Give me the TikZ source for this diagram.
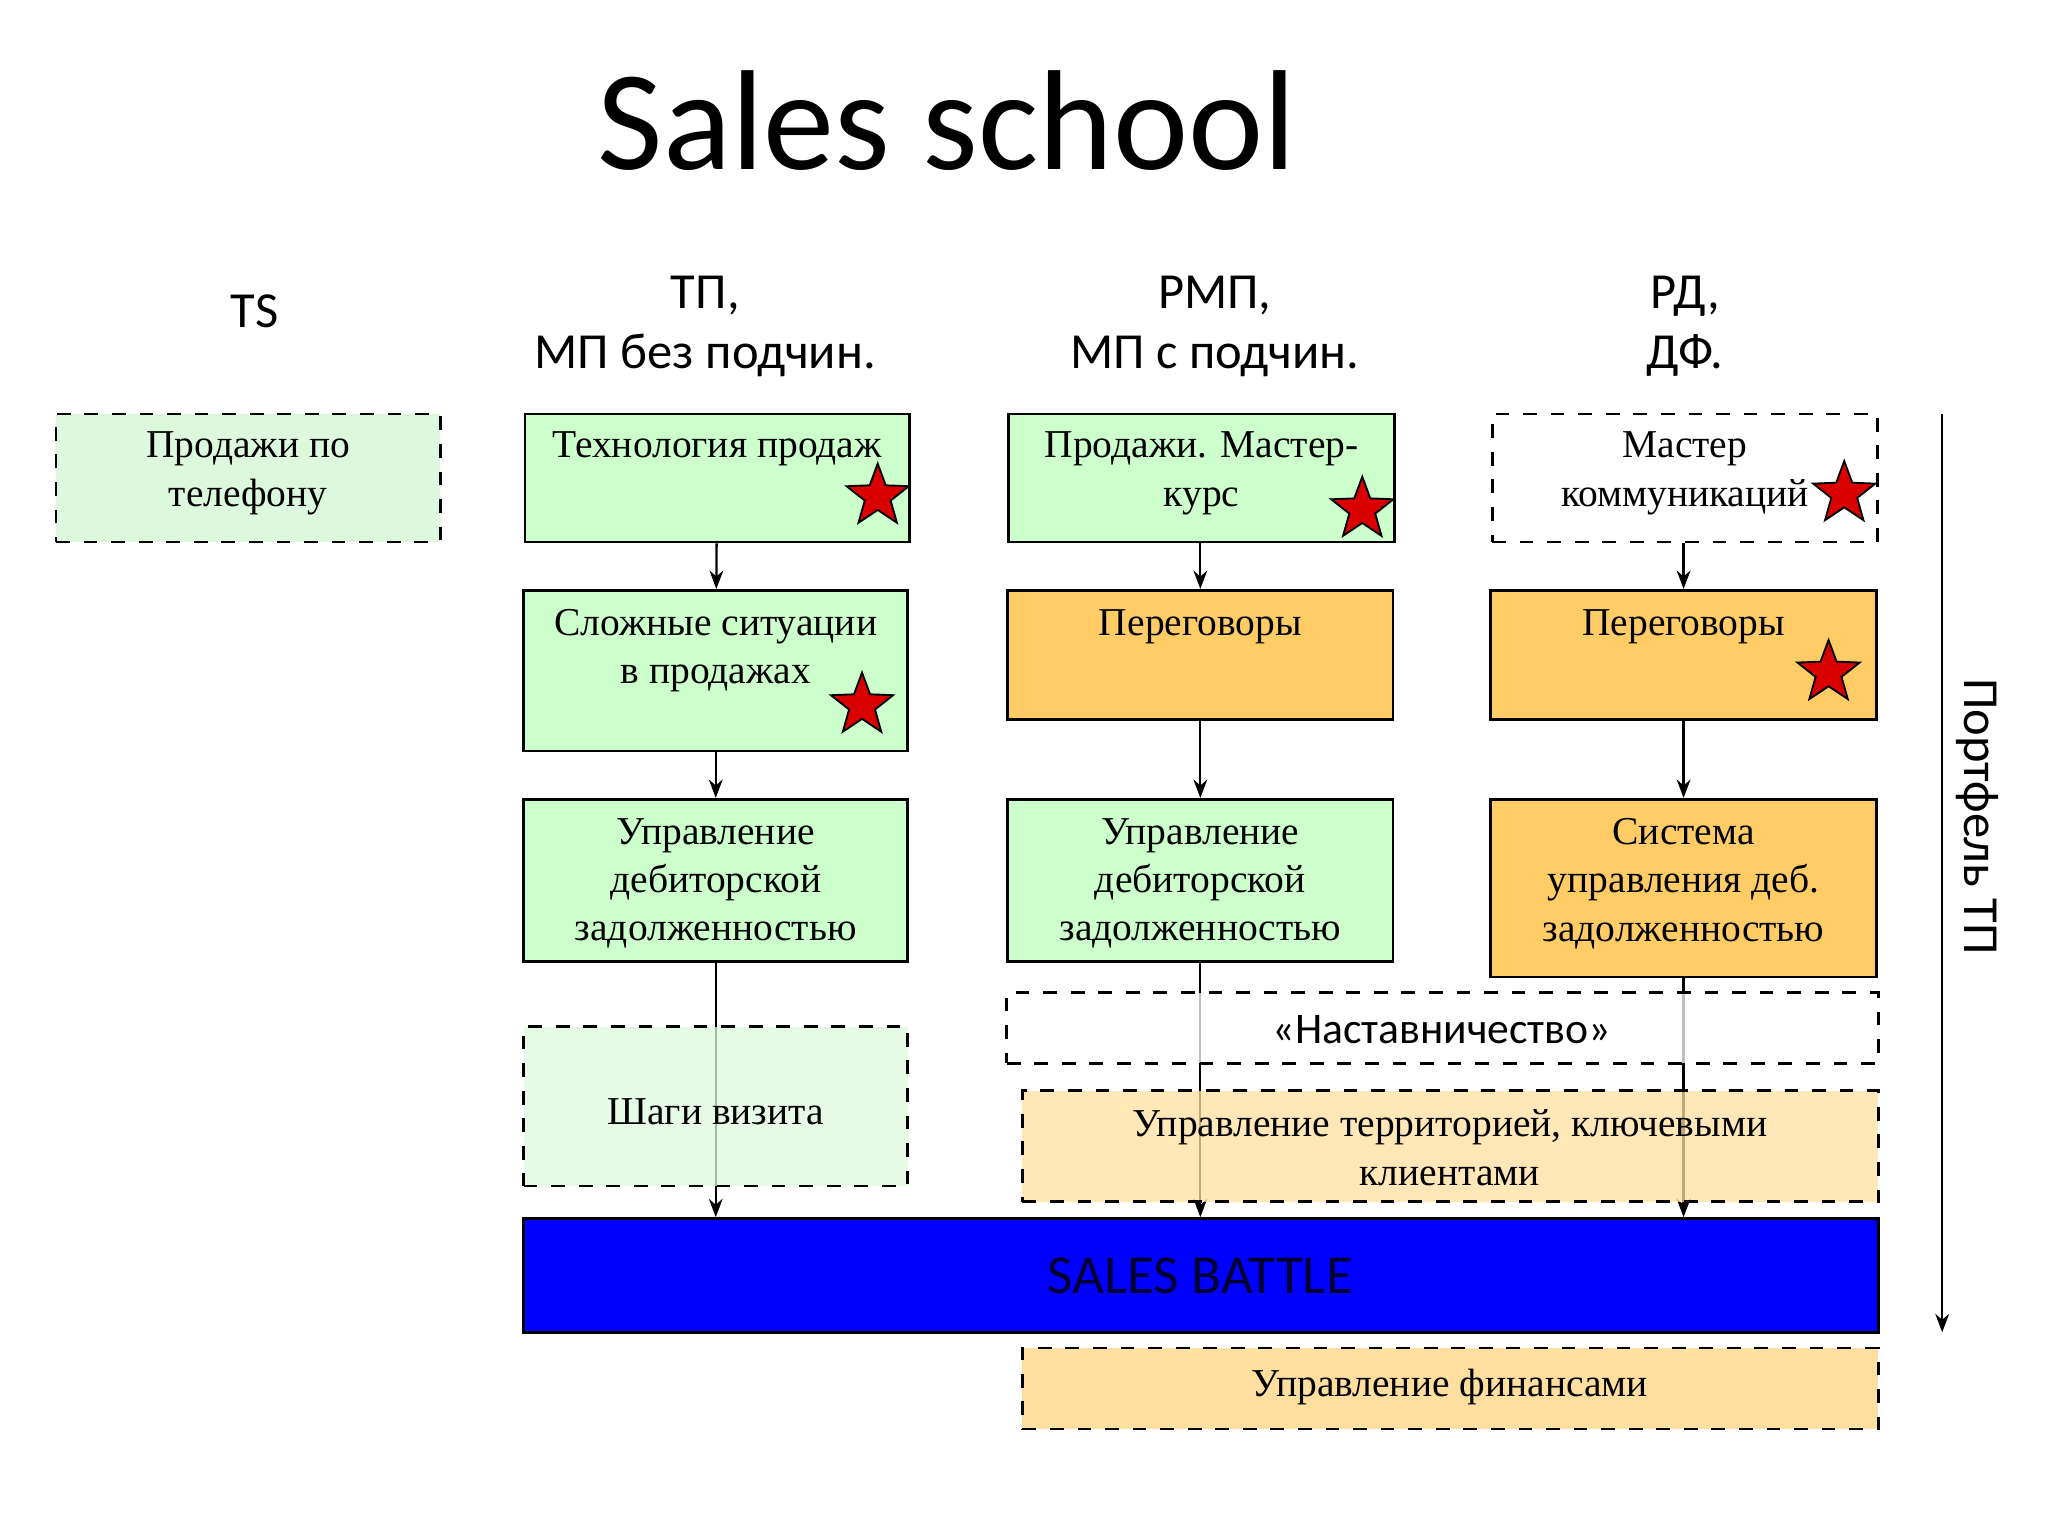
\documentclass[tikz,border=0pt]{standalone}
\usepackage{fontspec}
\setmainfont{Liberation Serif}
\newfontfamily\calfont{Carlito}
\usetikzlibrary{shapes.geometric,arrows.meta}
\definecolor{lg}{HTML}{CCFFCC}
\definecolor{llg}{HTML}{DDF9DD}
\definecolor{og}{HTML}{FFCC66}
\definecolor{lo}{HTML}{FFDF9F}
\begin{document}
\begin{tikzpicture}[x=0.01cm,y=-0.01cm,
 box/.style={draw,line width=0.6pt,inner sep=0pt},
 dbox/.style={box,dashed},
 txt/.style={font=\fontsize{8.6}{10.5}\selectfont,align=center,anchor=north,inner sep=0pt},
 hd/.style={font=\calfont\fontsize{11}{13}\selectfont,align=center},
 st/.style={star,star points=5,star point ratio=2.4,draw,fill=red!85!black,minimum size=0.5cm,inner sep=0pt},
 arr/.style={-{Stealth[length=4pt,width=3pt]},line width=0.5pt}]
\useasboundingbox (0,0) rectangle (1568,1176);
\node[font=\calfont\fontsize{31}{35}\selectfont] (title) at (725,92) {Sales school};
\node[hd] (h0) at (195,238) {TS};
\node[hd] (h1) at (540,250) {ТП,\\МП без подчин.};
\node[hd] (h2) at (930,250) {РМП,\\МП с подчин.};
\node[hd] (h3) at (1290,250) {РД,\\ДФ.};
% boxes
\node[dbox,fill=llg,minimum width=2.94cm,minimum height=0.98cm] (p1) at (190,366) {};
\node[txt] (tphone) at (190,330) {Продажи по\\телефону};
\node[box,fill=lg,minimum width=2.94cm,minimum height=0.98cm] (a1) at (549,366) {};
\node[txt] at (549,330) {Технология продаж};
\node[box,fill=lg,minimum width=2.94cm,minimum height=1.23cm] (a2) at (548,513.5) {};
\node[txt] at (548,466) {Сложные ситуации\\в продажах};
\node[box,fill=lg,minimum width=2.94cm,minimum height=1.24cm] (a3) at (548,674) {};
\node[txt] at (548,626) {Управление\\дебиторской\\задолженностью};
\node[box,fill=lg,minimum width=2.95cm,minimum height=0.98cm] (b1) at (920,366) {};
\node[txt] at (920,330) {Продажи. Мастер-\\курс};
\node[box,fill=og,minimum width=2.95cm,minimum height=0.99cm] (b2) at (919,501.5) {};
\node[txt] at (919,466) {Переговоры};
\node[box,fill=lg,minimum width=2.95cm,minimum height=1.24cm] (b3) at (919,674) {};
\node[txt] at (919,626) {Управление\\дебиторской\\задолженностью};
\node[dbox,fill=white,minimum width=2.95cm,minimum height=0.98cm] (c1) at (1290,366) {};
\node[txt] at (1290,330) {Мастер\\коммуникаций};
\node[box,fill=og,minimum width=2.95cm,minimum height=0.99cm] (c2) at (1289,501.5) {};
\node[txt] at (1289,466) {Переговоры};
\node[box,fill=og,minimum width=2.95cm,minimum height=1.36cm] (c3) at (1289,680) {};
\node[txt] at (1289,626) {Система\\управления деб.\\задолженностью};
\node[box,fill=blue,minimum width=10.37cm,minimum height=0.87cm] (sb) at (919.5,976.5) {};
\node[font=\calfont\fontsize{12}{14}\selectfont,text=black!80!blue] at (919,977) {SALES BATTLE};
% arrows
\draw[arr] (a1) -- (a2);
\draw[arr] (a2) -- (a3);
\draw[arr] (a3) -- (a3|-sb.north);
\draw[arr] (b1.south-|b2) -- (b2);
\draw[arr] (b2) -- (b3);
\draw[arr] (b3) -- (b3|-sb.north);
\draw[arr] (c1.south-|c2) -- (c2);
\draw[arr] (c2) -- (c3);
\draw[arr] (c3) -- (c3|-sb.north);
% dashed overlays
\node[dbox,fill=llg,fill opacity=0.75,minimum width=2.94cm,minimum height=1.22cm] (d1) at (548,847) {};
\node[txt,anchor=center] at (548,851) {Шаги визита};
\node[dbox,fill=white,fill opacity=0.75,minimum width=6.67cm,minimum height=0.54cm] (d2) at (1104.5,787) {};
\node[font=\calfont\fontsize{9.5}{11}\selectfont] at (1104,788) {«Наставничество»};
\node[dbox,fill=lo,fill opacity=0.75,minimum width=6.55cm,minimum height=0.85cm] (d3) at (1110.5,877.5) {};
\node[txt] at (1110,849) {Управление территорией, ключевыми\\клиентами};
\node[dbox,fill=lo,minimum width=6.55cm,minimum height=0.62cm] (d4) at (1110.5,1063) {};
\node[txt,anchor=center] at (1110,1062) {Управление финансами};
% stars
\node[st] (s1) at (672,380) {};
\node[st] (s2) at (660,540) {};
\node[st] (s3) at (1043,390) {};
\node[st] (s4) at (1412,378) {};
\node[st] (s5) at (1400,515) {};
% portfolio
\coordinate (pt) at (1487,317);
\coordinate (pb) at (1487,1020);
\draw[arr] (pt) -- (pb);
\node[hd,rotate=-90] (pl) at (1514,625) {Портфель ТП};
\end{tikzpicture}
\end{document}
